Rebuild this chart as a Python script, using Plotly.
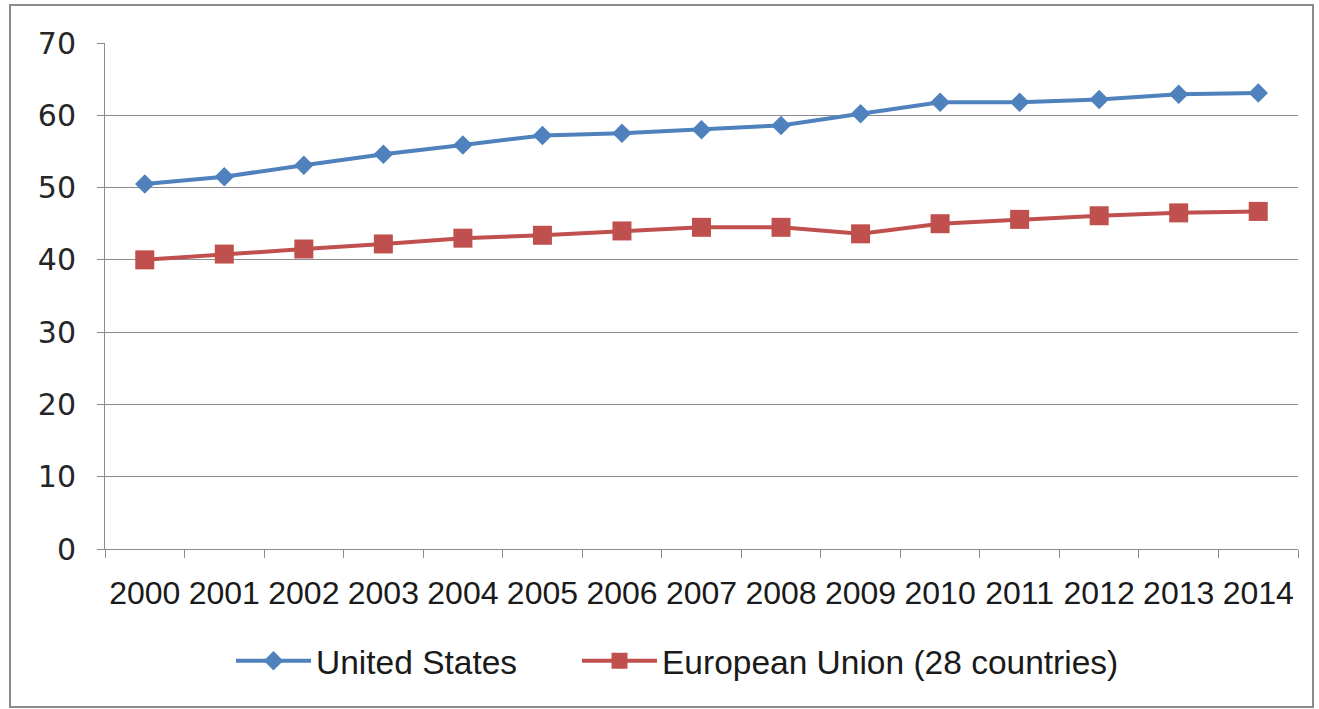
import plotly.graph_objects as go

years = [str(y) for y in range(2000, 2015)]
us_values = [50.5, 51.5, 53.1, 54.6, 55.9, 57.2, 57.5, 58.0, 58.6, 60.2, 61.8, 61.8, 62.2, 62.9, 63.1]
eu_values = [40.0, 40.8, 41.5, 42.2, 43.0, 43.4, 44.0, 44.5, 44.5, 43.6, 45.0, 45.6, 46.1, 46.5, 46.7]
y_ticks = [0, 10, 20, 30, 40, 50, 60, 70]

W, H = 1319, 709
L, R, T, B = 105, 21, 43, 160
pw, ph = W - L - R, H - T - B

grid = "#8c8c8c"
fig = go.Figure()
fig.add_trace(go.Scatter(
    x=years, y=us_values, name="United States", mode="lines+markers",
    line=dict(color="#4F81BD", width=4),
    marker=dict(symbol="diamond", size=15, color="#4F81BD"),
    legend="legend",
))
fig.add_trace(go.Scatter(
    x=years, y=eu_values, name="European Union (28 countries)", mode="lines+markers",
    line=dict(color="#C0504D", width=4),
    marker=dict(symbol="square", size=19, color="#C0504D"),
    legend="legend2",
))

def px_x(p):
    return (p - L) / pw

def px_y(p):
    return (H - B - p) / ph

fig.add_shape(type="rect", xref="paper", yref="paper",
              x0=px_x(10), x1=px_x(1313), y0=px_y(707), y1=px_y(5),
              line=dict(color="#8c8c8c", width=2), layer="below")

legend_font = dict(family="Liberation Sans", size=33.5, color="#1a1a1a")
fig.update_layout(
    width=W, height=H,
    margin=dict(l=L, r=R, t=T, b=B, autoexpand=False),
    paper_bgcolor="white", plot_bgcolor="white",
    showlegend=True,
    legend=dict(orientation="h", x=px_x(231), xanchor="left", y=px_y(661), yanchor="middle",
                font=legend_font, itemwidth=75, bgcolor="rgba(0,0,0,0)"),
    legend2=dict(orientation="h", x=px_x(577), xanchor="left", y=px_y(661), yanchor="middle",
                 font=legend_font, itemwidth=75, bgcolor="rgba(0,0,0,0)"),
    xaxis=dict(
        type="category", tickson="boundaries", ticks="outside", ticklen=8,
        tickcolor=grid, showline=True, linecolor=grid, linewidth=1,
        showgrid=False, range=[-0.5, 14.5], tickangle=0,
        tickfont=dict(family="Liberation Sans", size=32, color="#1a1a1a"),
        ticklabelstandoff=16,
    ),
    yaxis=dict(
        range=[0, 70], tickvals=y_ticks, ticks="outside", ticklen=7,
        tickcolor=grid, showline=True, linecolor=grid, linewidth=1,
        showgrid=True, gridcolor=grid, gridwidth=1, zeroline=False,
        tickfont=dict(family="DejaVu Sans", size=30, color="#262626"),
        ticklabelstandoff=15,
    ),
)
fig.write_html("out.html", config={"displayModeBar": False},
               post_script="document.body.style.margin='0px';")
